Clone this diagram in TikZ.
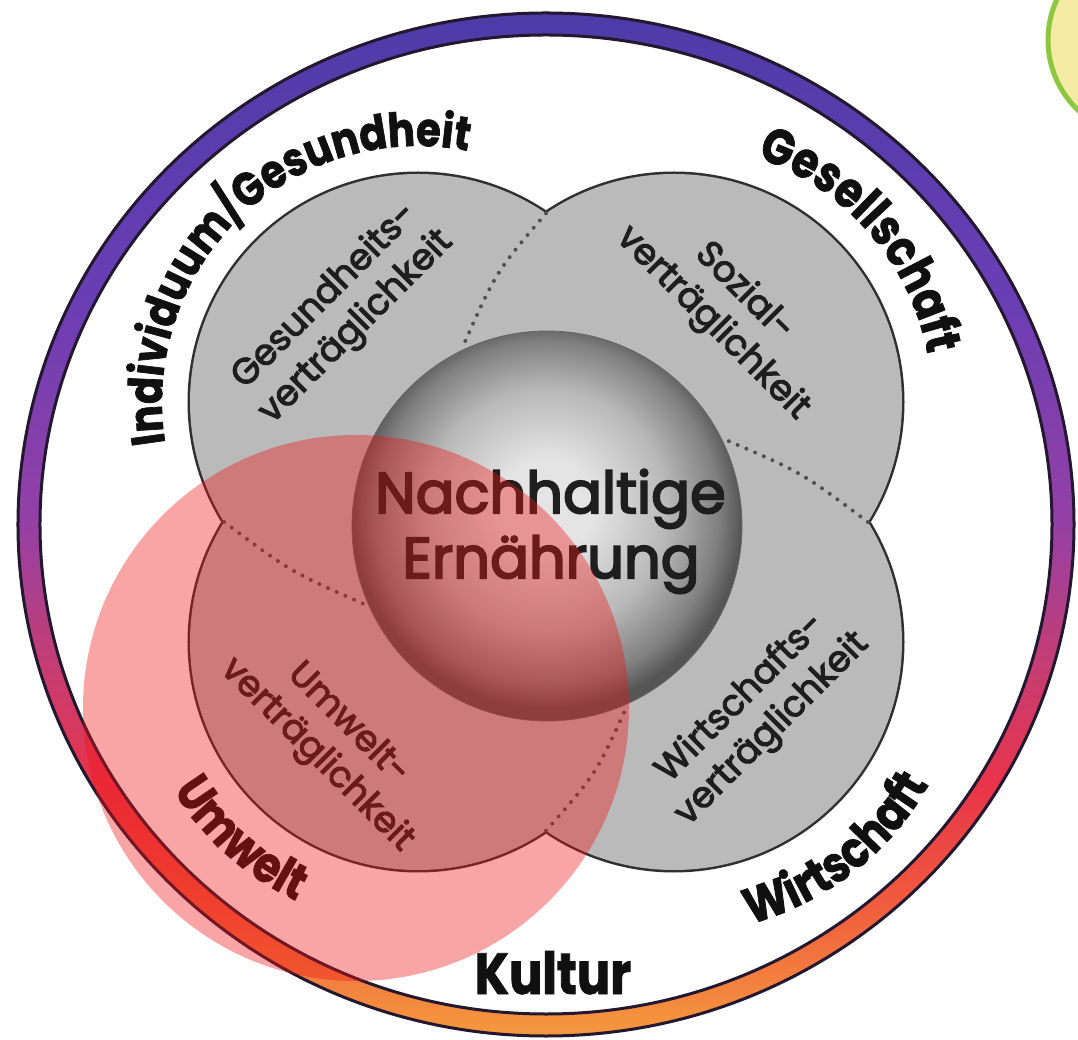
\documentclass[tikz,border=0pt]{standalone}
\usepackage{fontspec}
\setmainfont{Poppins}
\newfontfamily\ringfont{Poppins}[FakeStretch=0.85, BoldFeatures={FakeBold=1.5}]
\newfontfamily\lobefont{Poppins}[FakeBold=3]
\newfontfamily\titlefont{Poppins}[FakeBold=3.5]
\usetikzlibrary{decorations.text}

\definecolor{lobegray}{HTML}{BABABA}
\definecolor{lobeline}{HTML}{303030}
\definecolor{dotgray}{HTML}{505050}
\definecolor{lobeink}{HTML}{1E1E1E}
\definecolor{ringink}{HTML}{101010}
\definecolor{ringline}{HTML}{241830}
\definecolor{redov}{RGB}{240,20,20}
\definecolor{yelfill}{HTML}{F5EBA5}
\definecolor{yelline}{HTML}{8DC63F}
\definecolor{rg0}{HTML}{F59A3E}
\definecolor{rg1}{HTML}{F05A3E}
\definecolor{rg2}{HTML}{E8334A}
\definecolor{rg3}{HTML}{C03E78}
\definecolor{rg4}{HTML}{9440A6}
\definecolor{rg5}{HTML}{6A3EB4}
\definecolor{rg6}{HTML}{4C3CA8}
\definecolor{sp0}{HTML}{E4E4E4}
\definecolor{sp1}{HTML}{B8B8B8}
\definecolor{sp2}{HTML}{808080}
\definecolor{sp3}{HTML}{555555}

\pgfdeclareverticalshading{ringgrad}{100bp}{color(0bp)=(rg0); color(25bp)=(rg0); color(31.7bp)=(rg1); color(37.5bp)=(rg2); color(43.9bp)=(rg3); color(50.2bp)=(rg4); color(61bp)=(rg5); color(75bp)=(rg6); color(100bp)=(rg6)}
\pgfdeclareradialshading{spheregrad}{\pgfpoint{0bp}{3bp}}{color(0bp)=(sp0); color(6bp)=(sp0); color(15.5bp)=(sp1); color(22bp)=(sp2); color(25bp)=(sp3); color(50bp)=(sp3)}

\newcommand\ringtextfont{\ringfont\bfseries\fontsize{50}{60}\selectfont}
\newcommand\ringtextsmall{\ringfont\bfseries\fontsize{47}{56}\selectfont}

\tikzset{
  lobetxt/.style={align=center, inner sep=0pt, text=lobeink, font=\lobefont\fontsize{36}{44}\selectfont},
  centertxt/.style={inner sep=0pt, anchor=base, text=lobeink, font=\titlefont\fontsize{57.5}{66}\selectfont},
  dotline/.style={dotgray, line width=4, line cap=round, dash pattern=on 0pt off 9.5pt},
  ringlabel/.style={decorate, decoration={text along path, text align=center, text color=ringink, text={|\ringtextfont|#1}}},
  ringlabelsmall/.style={decorate, decoration={text along path, text align=center, text color=ringink, text={|\ringtextsmall|#1}}}
}

\begin{document}
\begin{tikzpicture}[x=1pt,y=1pt]
\useasboundingbox (-546,-518) rectangle (532,522);
\fill[white] (-546,-518) rectangle (532,522);

% outer ring
\shade[shading=ringgrad, even odd rule] (0,-2.5) ellipse [x radius=529, y radius=512.5] (0,-2.5) ellipse [x radius=505, y radius=488.5];
\draw[ringline, line width=3] (0,-2.5) ellipse [x radius=528, y radius=511.5];
\draw[ringline, line width=3] (0,-2.5) ellipse [x radius=506, y radius=489.5];

% four lobes
\coordinate (ctl) at (-128,120);
\coordinate (ctr) at (128,120);
\coordinate (cbr) at (128,-120);
\coordinate (cbl) at (-128,-120);
\foreach \c in {ctl,ctr,cbr,cbl} \draw[lobeline, line width=5] (\c) circle[radius=228];
\foreach \c in {ctl,ctr,cbr,cbl} \fill[lobegray] (\c) circle[radius=228];

% dotted separations
\coordinate (ntop) at (0,308.7);
\coordinate (nright) at (321.9,0);
\coordinate (nbottom) at (0,-308.7);
\coordinate (nleft) at (-321.9,0);
\draw[dotline] (ntop) .. controls (-50,250) .. (-82,178);
\draw[dotline] (nright) .. controls (255,50) .. (180,82);
\draw[dotline] (nbottom) .. controls (50,-252) .. (82,-182);
\draw[dotline] (nleft) .. controls (-255,-50) .. (-182,-82);

% sphere
\coordinate (sph) at (1,-4);
\shade[shading=spheregrad] (sph) circle[radius=195];
\draw[black!60, line width=0.8] (sph) circle[radius=195];

% centre text
\node[centertxt] (title1) at (4.5,9) {Nachhaltige};
\node[centertxt] (title2) at (5,-56) {Ernährung};

% lobe labels
\node[lobetxt, rotate=45] (ltl) at (-205,210) {Gesundheits-\\verträglichkeit};
\node[lobetxt, rotate=-45] (ltr) at (182,214) {Sozial-\\verträglichkeit};
\node[lobetxt, rotate=45] (lbr) at (211,-192) {Wirtschafts-\\verträglichkeit};
\node[lobetxt, rotate=-45] (lbl) at (-214,-218) {Umwelt-\\verträglichkeit};

% ring labels
\path[ringlabelsmall=Individuum/Gesundheit] (ctl) ++(204:256) arc[start angle=204, end angle=64, radius=256];
\path[ringlabel=Gesellschaft] (ctr) ++(101:258) arc[start angle=101, end angle=-19, radius=258];
\path[ringlabel=Wirtschaft] (cbr) ++(-112:292) arc[start angle=-112, end angle=8, radius=292];
\path[ringlabel=Umwelt] (cbl) ++(-192:286) arc[start angle=-192, end angle=-72, radius=286];
\node[inner sep=0pt, anchor=base, text=ringink, font=\ringfont\bfseries\fontsize{58}{60}\selectfont] (kultur) at (7,-472) {Kultur};

% red translucent circle
\fill[redov, opacity=0.38] (-190,-186) circle[radius=273];

% yellow circle top right
\begin{scope}
\clip (-546,-518) rectangle (532,522);
\filldraw[fill=yelfill, draw=yelline, line width=5] (599,482) circle[radius=97];
\end{scope}
\end{tikzpicture}
\end{document}
